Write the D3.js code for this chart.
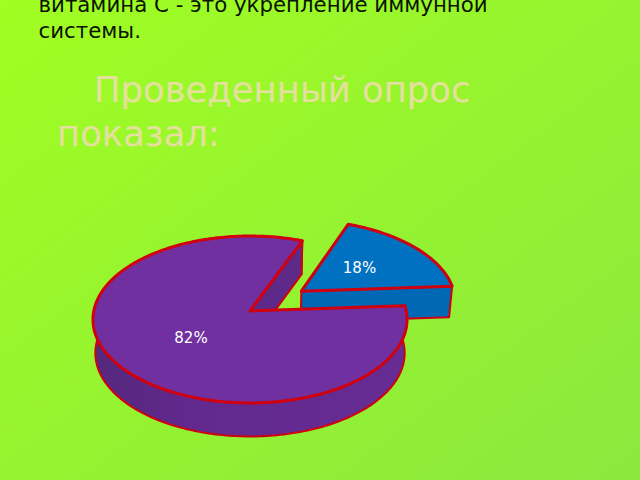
<!DOCTYPE html>
<html>
<head>
<meta charset="utf-8">
<style>
  html, body { margin: 0; padding: 0; background: #93f030; }
  svg { display: block; }
  text { font-family: "DejaVu Sans", sans-serif; }
</style>
<script src="https://cdn.jsdelivr.net/npm/d3@7"></script>
</head>
<body>
<svg id="chart"></svg>
<script>
const categories = ["b", "a"];
const values = [18, 82];
const labels = ["18%", "82%"];
const topColors = ["#0070c0", "#7030a0"];
const bodyLines = ["витамина С - это укрепление иммунной", "системы."];
const titleLines = ["Проведенный опрос", "показал:"];

const width = 640, height = 480;
const outline = "#d0000f";

// disc plane -> screen, a plain perspective so the back of the pie is flatter than the front
const cx = 250, cy = 311, w = 156.2, a = -82.6, c = 0.1018;
const depths = [31, 33.5], bottomScale = 0.985;
const explode = 0.417;

const project = (X, Y, low) => {
  const d = c * Y + 1;
  const x = X * w / d, y = a * Y / d;
  return low ? [cx + x * bottomScale, cy + y + low] : [cx + x, cy + y];
};

const pie = d3.pie().sort(null)
  .startAngle(21.5 * Math.PI / 180)
  .endAngle((21.5 + 360) * Math.PI / 180);
const slices = pie(values);

const line = d3.line();

const svg = d3.select("#chart")
  .attr("width", width)
  .attr("height", height)
  .attr("viewBox", [0, 0, width, height]);

const defs = svg.append("defs");
const bg = defs.append("linearGradient").attr("id", "bg")
  .attr("x1", 0).attr("y1", 0).attr("x2", 1).attr("y2", 1);
bg.append("stop").attr("offset", 0).attr("stop-color", "#a0fe22");
bg.append("stop").attr("offset", 1).attr("stop-color", "#8ce83e");

const wall = defs.append("linearGradient").attr("id", "wallA")
  .attr("gradientUnits", "userSpaceOnUse")
  .attr("x1", 93).attr("y1", 0).attr("x2", 407).attr("y2", 0);
wall.append("stop").attr("offset", 0).attr("stop-color", "#55287c");
wall.append("stop").attr("offset", 0.35).attr("stop-color", "#62298f");
wall.append("stop").attr("offset", 1).attr("stop-color", "#662c93");

svg.append("rect").attr("width", width).attr("height", height).attr("fill", "url(#bg)");

// geometry of one slice in disc coordinates
function sliceGeom(s) {
  const mid = (s.startAngle + s.endAngle) / 2;
  const off = s.index === 0 ? explode : 0;
  const ox = off * Math.sin(mid), oy = off * Math.cos(mid);
  const steps = Math.ceil((s.endAngle - s.startAngle) / 0.02);
  const rim = d3.range(steps + 1).map(i => {
    const t = s.startAngle + (s.endAngle - s.startAngle) * i / steps;
    return [ox + Math.sin(t), oy + Math.cos(t)];
  });
  return { apex: [ox, oy], rim };
}

function drawSlice(s) {
  const g = sliceGeom(s);
  const depth = depths[s.index];
  const onTop = p => project(p[0], p[1], 0);
  const onLow = p => project(p[0], p[1], depth);
  const layer = svg.append("g").attr("stroke", outline).attr("stroke-linejoin", "round");
  const end = g.rim[g.rim.length - 1];

  if (s.index === 0) {
    // front cut face, from the centre out to the right corner
    layer.append("path")
      .attr("d", line([onTop(g.apex), onTop(end), onLow(end), onLow(g.apex)]) + "Z")
      .attr("fill", "#0068b4").attr("stroke-width", 2);
  } else {
    // outer wall first, the cut face seen through the gap goes over it
    layer.append("path")
      .attr("d", line(g.rim.map(onTop).concat(g.rim.slice().reverse().map(onLow))) + "Z")
      .attr("fill", "url(#wallA)").attr("stroke-width", 2);
    layer.append("path")
      .attr("d", line([onTop(g.apex), onTop(end), onLow(end), onLow(g.apex)]) + "Z")
      .attr("fill", "#5e2a8a").attr("stroke-width", 2);
  }

  layer.append("path")
    .attr("d", line([onTop(g.apex)].concat(g.rim.map(onTop))) + "Z")
    .attr("fill", topColors[s.index]).attr("stroke-width", 3);
}

slices.forEach(drawSlice);

const labelAt = [[359.5, 268], [191, 338]];
svg.selectAll(".lbl").data(labels).join("text")
  .attr("class", "lbl")
  .attr("x", (d, i) => labelAt[i][0])
  .attr("y", (d, i) => labelAt[i][1])
  .attr("dy", "0.36em")
  .attr("text-anchor", "middle")
  .attr("font-size", 15)
  .attr("fill", "#fff")
  .text(d => d);

svg.selectAll(".body").data(bodyLines).join("text")
  .attr("class", "body")
  .attr("x", 38.5)
  .attr("y", (d, i) => 12 + i * 26)
  .attr("font-size", 21.3)
  .attr("fill", "#0a1400")
  .text(d => d);

svg.selectAll(".title").data(titleLines).join("text")
  .attr("class", "title")
  .attr("x", (d, i) => i === 0 ? 94 : 57)
  .attr("y", (d, i) => 102 + i * 44)
  .attr("font-size", 35.4)
  .attr("fill", "#e6e0a0")
  .text(d => d);
</script>
</body>
</html>
